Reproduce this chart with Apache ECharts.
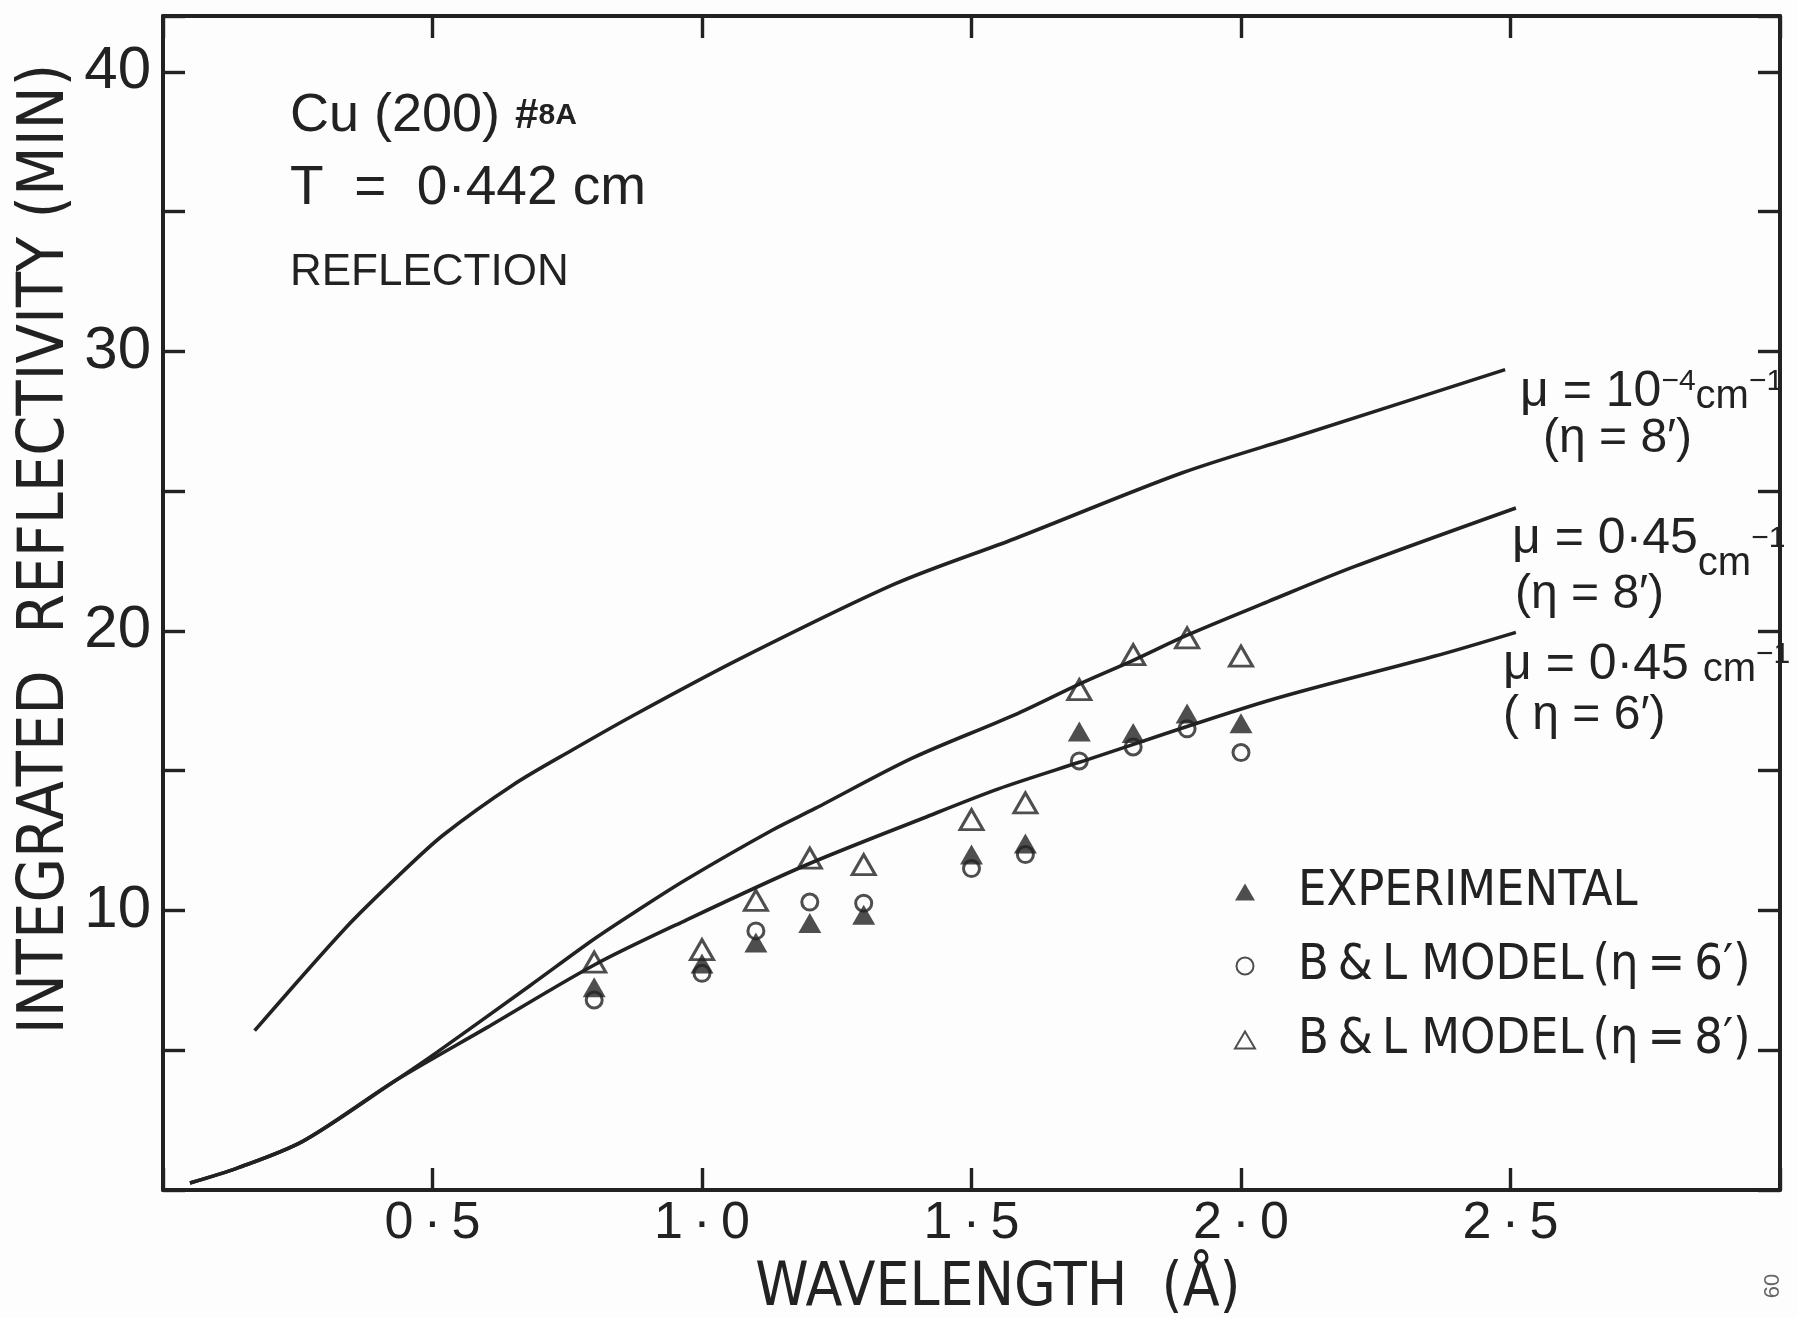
<!DOCTYPE html>
<html>
<head>
<meta charset="utf-8">
<script src="https://cdn.jsdelivr.net/npm/echarts@6/dist/echarts.min.js"></script>
<style>
  html, body { margin: 0; padding: 0; background: #fdfdfd; }
  #main { width: 1797px; height: 1318px; }
</style>
</head>
<body>
<div id="main"></div>
<script>
// calculated curves
var curveAx = [0.17, 0.34, 0.44, 0.52, 0.65, 0.76, 0.87, 1.07, 1.36, 1.58, 1.89, 2.11, 2.49];
var curveAy = [5.7, 9.4, 11.3, 12.7, 14.5, 15.75, 16.95, 19.0, 21.7, 23.3, 25.65, 27.0, 29.35];

var curveBx = [0.05, 0.14, 0.26, 0.43, 0.51, 0.68, 0.80, 0.88, 0.97, 1.13, 1.21, 1.39, 1.58, 1.70, 1.80, 1.90, 2.05, 2.21, 2.51];
var curveBy = [0.25, 0.8, 1.75, 3.9, 4.95, 7.3, 8.98, 10.0, 11.1, 12.87, 13.65, 15.45, 17.0, 18.1, 18.95, 19.85, 21.05, 22.3, 24.4];

var curveCx = [0.05, 0.14, 0.26, 0.43, 0.60, 0.80, 0.97, 1.19, 1.41, 1.55, 1.70, 2.05, 2.36, 2.51];
var curveCy = [0.25, 0.8, 1.75, 3.9, 5.8, 8.05, 9.65, 11.6, 13.3, 14.35, 15.3, 17.5, 19.1, 19.95];

// measured points
var waveX   = [0.8, 1.0, 1.1, 1.2, 1.3, 1.5, 1.6, 1.7, 1.8, 1.9, 2.0];
var expt    = [7.25, 8.1, 8.85, 9.55, 9.85, 12.0, 12.4, 16.4, 16.35, 17.05, 16.7];
var model6  = [6.8, 7.75, 9.27, 10.3, 10.26, 11.5, 12.0, 15.35, 15.85, 16.5, 15.65];
var model8  = [8.15, 8.6, 10.36, 11.87, 11.64, 13.25, 13.85, 17.9, 19.15, 19.75, 19.1];

var xTickVals = [0.5, 1.0, 1.5, 2.0, 2.5];
var xTickLabels = ['0\u2009·\u20095', '1\u2009·\u20090', '1\u2009·\u20095', '2\u2009·\u20090', '2\u2009·\u20095'];
var yTickVals = [10, 20, 30, 40];
var yTickLabels = ['10', '20', '30', '40'];

var legendNames = ['EXPERIMENTAL', 'B\u2009&\u2009L MODEL\u2009(η\u2009=\u20096′)', 'B\u2009&\u2009L MODEL\u2009(η\u2009=\u20098′)'];

var fam = "'Liberation Sans', 'DejaVu Sans', sans-serif";
var famN = "'DejaVu Sans Condensed', 'Liberation Sans Narrow', sans-serif";
var ink = '#222';

function pairs(xs, ys) {
    return xs.map(function (x, i) { return [x, ys[i]]; });
}
function pickLabel(vals, labels) {
    return function (v) {
        for (var i = 0; i < vals.length; i++) {
            if (Math.abs(vals[i] - v) < 1e-6) return labels[i];
        }
        return '';
    };
}

var myChart = echarts.init(document.getElementById('main'));

var axisLine = { show: true, onZero: false, lineStyle: { color: ink, width: 4 } };
var tick = { show: true, inside: true, length: 22, lineStyle: { color: ink, width: 3.4 } };

function curve(name, xs, ys) {
    return {
        name: name, type: 'line', data: pairs(xs, ys),
        smooth: 0.3, showSymbol: false, silent: true, z: 2,
        lineStyle: { color: ink, width: 3.6 }
    };
}

var rich = {
    b: { fontSize: 50, fontFamily: fam, color: ink },
    s: { fontSize: 30, fontFamily: fam, color: ink, verticalAlign: 'top' },
    sm: { fontSize: 30, fontFamily: fam, color: ink, verticalAlign: 'middle' },
    u: { fontSize: 40, fontFamily: fam, color: ink, verticalAlign: 'bottom' },
    ul: { fontSize: 40, fontFamily: fam, color: ink, verticalAlign: 'bottom', padding: [50, 0, 0, 0] },
    e: { fontSize: 48, fontFamily: fam, color: ink },
    h: { fontSize: 42, fontFamily: fam, fontWeight: 'bold', color: ink },
    k: { fontSize: 30, fontFamily: fam, fontWeight: 'bold', color: ink }
};

function txt(x, y, text, extra) {
    var st = { text: text, fill: ink, align: 'left', verticalAlign: 'middle', rich: rich, font: '50px ' + fam };
    for (var k in extra) st[k] = extra[k];
    return { type: 'text', x: x, y: y, style: st, z: 10 };
}

var option = {
    backgroundColor: '#fdfdfd',
    animation: false,
    grid: { left: 163, right: 17, top: 16, bottom: 128 },
    legend: {
        data: legendNames,
        orient: 'vertical',
        left: 1229,
        top: 862,
        itemWidth: 20,
        itemHeight: 17,
        itemGap: 24,
        textStyle: { fontFamily: famN, fontSize: 50, color: ink, padding: [0, 0, 0, 38] }
    },
    xAxis: [{
        type: 'value', min: 0, max: 3, interval: 0.5, position: 'bottom',
        axisLine: axisLine, axisTick: tick, splitLine: { show: false },
        axisLabel: { formatter: pickLabel(xTickVals, xTickLabels), fontSize: 52, fontFamily: fam, color: ink, margin: 8 }
    }, {
        type: 'value', min: 0, max: 3, interval: 0.5, position: 'top',
        axisLine: axisLine, axisTick: tick, splitLine: { show: false }, axisLabel: { show: false }
    }],
    yAxis: [{
        type: 'value', min: 0, max: 42, interval: 5, position: 'left',
        axisLine: axisLine, axisTick: tick, splitLine: { show: false },
        axisLabel: { formatter: pickLabel(yTickVals, yTickLabels), fontSize: 60, fontFamily: fam, color: ink, margin: 12 }
    }, {
        type: 'value', min: 0, max: 42, interval: 5, position: 'right',
        axisLine: axisLine, axisTick: tick, splitLine: { show: false }, axisLabel: { show: false }
    }],
    series: [
        curve('μ = 10⁻⁴ cm⁻¹ (η = 8′)', curveAx, curveAy),
        curve('μ = 0.45 cm⁻¹ (η = 8′)', curveBx, curveBy),
        curve('μ = 0.45 cm⁻¹ (η = 6′)', curveCx, curveCy),
        {
            name: legendNames[0], type: 'scatter', data: pairs(waveX, expt), z: 4,
            symbol: 'triangle', symbolSize: [23, 20], itemStyle: { color: ink }
        },
        {
            name: legendNames[1], type: 'scatter', data: pairs(waveX, model6), z: 5,
            symbol: 'circle', symbolSize: 16,
            itemStyle: { color: 'rgba(255,255,255,0)', borderColor: ink, borderWidth: 3 }
        },
        {
            name: legendNames[2], type: 'scatter', data: pairs(waveX, model8), z: 5,
            symbol: 'triangle', symbolSize: [23, 20],
            itemStyle: { color: 'rgba(255,255,255,0)', borderColor: ink, borderWidth: 3 }
        }
    ],
    graphic: [
        // axis titles
        { type: 'text', x: 46, y: 549, rotation: Math.PI / 2, z: 10,
          style: { text: 'INTEGRATED  REFLECTIVITY (MIN)', font: '64px ' + famN, fill: ink, align: 'center', verticalAlign: 'middle' } },
        { type: 'text', x: 998, y: 1289, z: 10,
          style: { text: 'WAVELENGTH  (Å)', font: '60px ' + famN, fill: ink, align: 'center', verticalAlign: 'middle' } },
        // sample notes
        txt(290, 116, '{b|Cu (200) }{h|#}{k|8A}', { font: '54px ' + fam, rich: {
            b: { fontSize: 54, fontFamily: fam, color: ink },
            h: rich.h, k: rich.k } }),
        txt(290, 189, 'T  =  0·442 cm', { font: '55px ' + fam }),
        txt(290, 273, 'REFLECTION', { font: '44px ' + fam }),
        // curve labels
        txt(1520, 392, '{b|μ = 10}{s|−4}{u|cm}{s|−1}'),
        txt(1543, 439, '{e|(η = 8′)}'),
        txt(1512, 539, '{b|μ = 0·45}{ul|cm}{sm|−1}'),
        txt(1515, 595, '{e|(η = 8′)}'),
        txt(1503, 665, '{b|μ = 0·45 }{u|cm}{s|−1}'),
        txt(1503, 716, '{e|( η = 6′)}'),
        // page mark
        { type: 'text', x: 1773, y: 1286, rotation: Math.PI / 2, z: 10,
          style: { text: '60', font: '22px ' + fam, fill: '#666', align: 'center', verticalAlign: 'middle' } }
    ]
};

myChart.setOption(option);
</script>
</body>
</html>
